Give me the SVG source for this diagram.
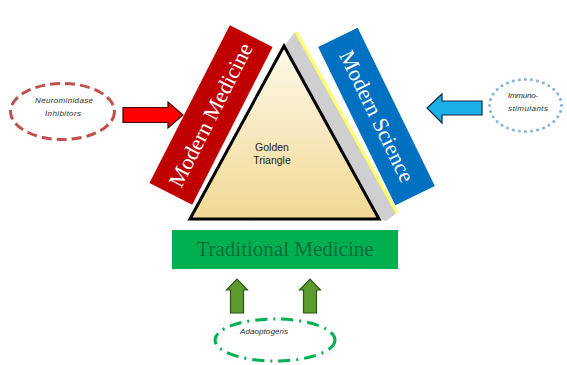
<svg xmlns="http://www.w3.org/2000/svg" width="567" height="365" viewBox="0 0 567 365">
  <style>
    .band-text { font-family: "Liberation Serif", "DejaVu Serif", serif; font-size: 22px; fill: #ffffff; text-anchor: middle; }
    .tm-text { font-family: "Liberation Serif", "DejaVu Serif", serif; font-size: 21px; fill: #0b6e38; text-anchor: middle; }
    .note { font-family: "Liberation Sans", "DejaVu Sans", sans-serif; font-style: italic; font-size: 8px; fill: #2a2a2a; }
    .core { font-family: "Liberation Sans", "DejaVu Sans", sans-serif; font-size: 10.5px; fill: #1a1a1a; text-anchor: middle; }
    .up-arrow { fill: #5c9c2e; stroke: #2f5219; stroke-width: 1.2; }
  </style>
  <defs>
    <linearGradient id="gold" x1="0" y1="0" x2="0" y2="1">
      <stop offset="0" stop-color="#fdf9ea"/>
      <stop offset="1" stop-color="#f1d993"/>
    </linearGradient>
  </defs>

  <rect width="567" height="365" fill="#ffffff"/>

  <!-- pyramid side face and the golden triangle -->
  <g id="golden-triangle">
    <polygon points="284,46 295,32 397,213 386,221 379,219" fill="#cfcfcf"/>
    <line x1="296" y1="32" x2="397" y2="213" stroke="#ffff66" stroke-width="3"/>
    <polygon points="284,46 190,219 379,219" fill="url(#gold)" stroke="#000000" stroke-width="3"/>
    <text class="core" x="272" y="150.5">Golden</text>
    <text class="core" x="272" y="163.5">Triangle</text>
  </g>

  <g id="modern-medicine" transform="translate(211,115) rotate(-63)">
    <rect x="-88.5" y="-24" width="177" height="48" fill="#c00000"/>
    <text class="band-text" x="0" y="7">Modern Medicine</text>
  </g>

  <g id="modern-science" transform="translate(376.5,116.5) rotate(64)">
    <rect x="-88" y="-22" width="176" height="44" fill="#0070c0"/>
    <text class="band-text" x="0" y="7">Modern Science</text>
  </g>

  <g id="traditional-medicine">
    <rect x="172" y="230" width="226" height="39" fill="#00b050"/>
    <text class="tm-text" x="285" y="256">Traditional Medicine</text>
  </g>

  <g id="neurominidase-inhibitors">
    <ellipse cx="62.5" cy="111.5" rx="52" ry="28" fill="none" stroke="#c0504d" stroke-width="3" stroke-dasharray="10 5"/>
    <text class="note" x="35" y="102.5" textLength="58" lengthAdjust="spacing">Neurominidase</text>
    <text class="note" x="45" y="115.5" textLength="36" lengthAdjust="spacing">Inhibitors</text>
  </g>

  <g id="immuno-stimulants">
    <ellipse cx="525.5" cy="105.5" rx="36" ry="26" fill="none" stroke="#8db3e2" stroke-width="3" stroke-linecap="round" stroke-dasharray="0.1 6"/>
    <text class="note" x="508" y="97.5" textLength="30" lengthAdjust="spacing">Immuno-</text>
    <text class="note" x="508" y="110.5" textLength="40" lengthAdjust="spacing">stimulants</text>
  </g>

  <g id="adaptogens">
    <ellipse cx="275" cy="340" rx="60" ry="21" fill="none" stroke="#00b050" stroke-width="3" stroke-dasharray="12 6 2 6"/>
    <text class="note" x="240" y="334" textLength="48" lengthAdjust="spacing">Adaoptogens</text>
  </g>

  <!-- block arrows pointing at the bands -->
  <g id="connectors">
    <polygon points="123,107.5 168,107.5 168,102 183,115 168,128 168,122.5 123,122.5" fill="#ff0000" stroke="#400000" stroke-width="1.2"/>
    <polygon points="482,101 442,101 442,94 427,108 442,123 442,115 482,115" fill="#1aafe6" stroke="#0d2a40" stroke-width="1.2"/>
    <polygon class="up-arrow" points="230.5,313 230.5,290 226.5,290 237,279 247.5,290 243.5,290 243.5,313"/>
    <polygon class="up-arrow" points="303.5,313 303.5,290 299.5,290 310,279 320.5,290 316.5,290 316.5,313"/>
  </g>
</svg>
